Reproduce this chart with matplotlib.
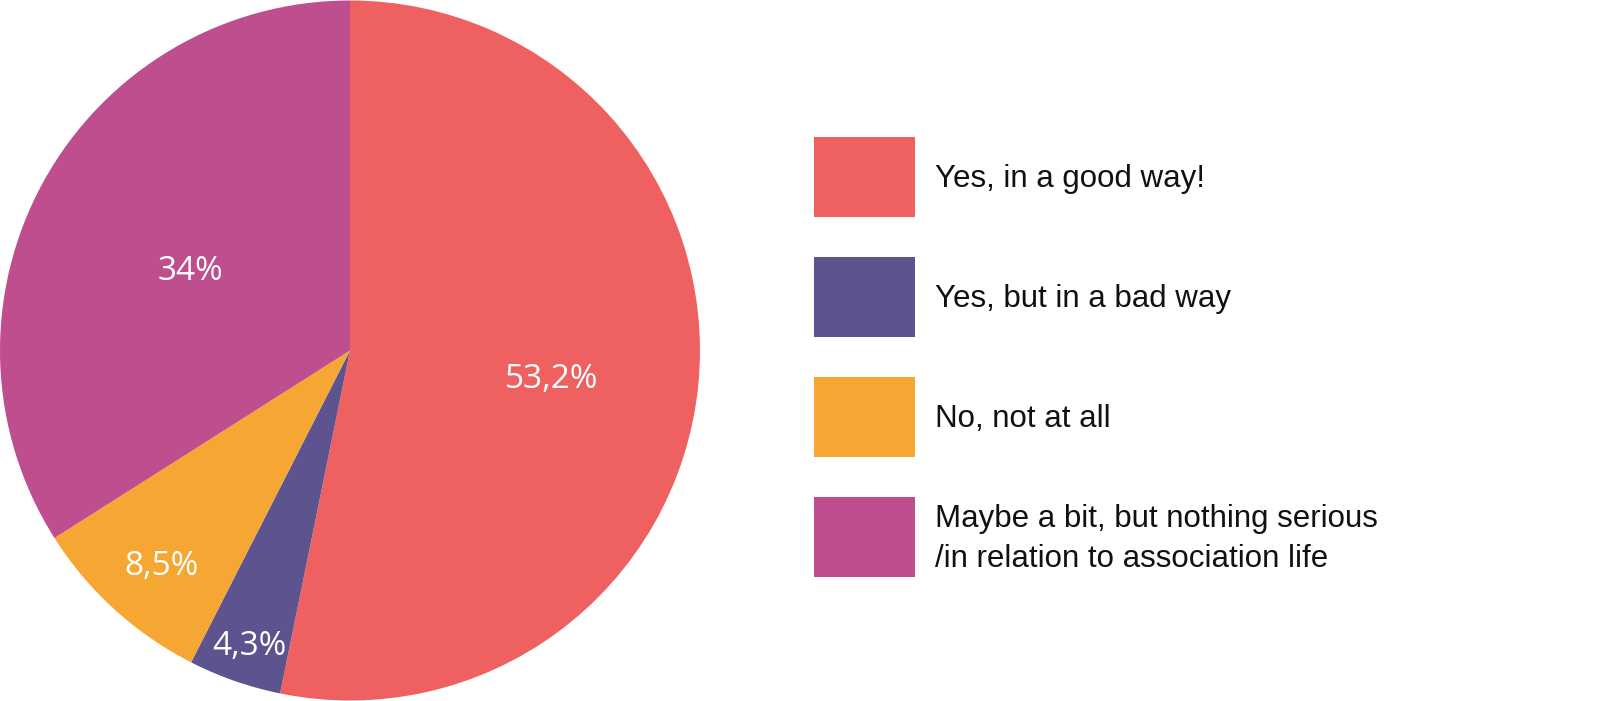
import numpy as np
import matplotlib
matplotlib.use("Agg")
import matplotlib.pyplot as plt
from matplotlib.patches import Rectangle
from matplotlib.transforms import offset_copy

# data
categories = ["Yes, in a good way!",
              "Yes, but in a bad way",
              "No, not at all",
              "Maybe a bit, but nothing serious\n/in relation to association life"]
shares = [53.2, 4.3, 8.5, 34.0]
pct_labels = ["53,2%", "4,3%", "8,5%", "34%"]
colors = ["#EF6160", "#5D548F", "#F6A733", "#BE4E8E"]

# how far from centre each percentage sits (fraction of radius)
label_dist = [0.58, 0.87, 0.80, 0.52]

W, H = 1600, 701
fig = plt.figure(figsize=(W / 100, H / 100), dpi=100)
fig.patch.set_facecolor("white")

# pie on the left
ax = fig.add_axes([0, 0, 700 / W, 1])
wedges, _ = ax.pie(shares, colors=colors, startangle=90, counterclock=False,
                   radius=1.0, wedgeprops=dict(linewidth=0))
ax.set_xlim(-1.0, 1.0)
ax.set_ylim(-1.0, 1.0)
ax.set_aspect("equal")
ax.axis("off")

# nudge labels down a little (Open Sans sits high with va=center)
tr = offset_copy(ax.transData, fig=fig, x=0, y=-9, units="dots")
for w, txt, d in zip(wedges, pct_labels, label_dist):
    ang = np.deg2rad((w.theta1 + w.theta2) / 2)
    ax.text(d * np.cos(ang), d * np.sin(ang), txt, color="white",
            fontsize=24, family=["Open Sans", "DejaVu Sans"],
            ha="center", va="center", transform=tr)

# legend drawn by hand on the right
box_x, box_w, box_h = 814, 101, 80
top0, step = 137, 120
text_x = 935
for i, (lab, c) in enumerate(zip(categories, colors)):
    top = top0 + i * step
    fig.add_artist(Rectangle((box_x / W, 1 - (top + box_h) / H), box_w / W, box_h / H,
                             transform=fig.transFigure, facecolor=c, edgecolor="none"))
    fig.text(text_x / W, 1 - (top + box_h / 2 + 2) / H, lab, fontsize=22.5,
             family=["Liberation Sans", "DejaVu Sans"], color="#111111",
             ha="left", va="center", linespacing=1.45)

fig.savefig("out.png", dpi=100, facecolor="white")
